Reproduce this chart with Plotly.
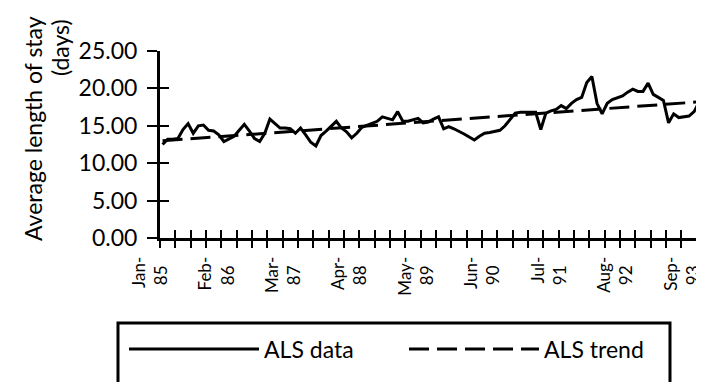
import plotly.graph_objects as go

# ---- data (monthly, Jan-85 onward) ----
als_data = [
    12.5, 13.2, 13.2, 13.3, 14.5, 15.3, 14.0, 15.0, 15.1, 14.4, 14.3, 13.8,
    12.9, 13.3, 13.6, 14.4, 15.2, 14.3, 13.3, 12.9, 14.0, 15.9, 15.3, 14.7,
    14.7, 14.6, 14.0, 14.7, 13.8, 12.8, 12.3, 13.7, 14.3, 15.0, 15.6, 14.7,
    14.2, 13.4, 14.0, 14.8, 15.1, 15.3, 15.6, 16.2, 16.0, 15.8, 16.9, 15.6,
    15.6, 15.8, 16.0, 15.4, 15.5, 15.9, 16.2, 14.6, 14.9, 14.6, 14.3, 13.9,
    13.5, 13.1, 13.6, 14.0, 14.1, 14.2, 14.4, 15.0, 15.9, 16.7, 16.8, 16.8,
    16.9, 16.8, 14.5, 16.7, 17.0, 17.2, 17.7, 17.3, 18.0, 18.5, 18.8, 20.8,
    21.6, 18.0, 16.6, 18.0, 18.5, 18.7, 19.0, 19.5, 19.9, 19.6, 19.6, 20.7,
    19.2, 18.8, 18.4, 15.4, 16.6, 16.1, 16.2, 16.3, 16.9, 18.2, 18.3, 18.4,
]
trend_months = [0, 107]
trend_values = [13.0, 18.3]

tick_months = [0, 13, 26, 39, 52, 65, 78, 91, 104]
NB = "\u00a0\u00a0"
tick_labels = ["Jan-<br>85" + NB, "Feb-<br>86" + NB, "Mar-<br>87" + NB, "Apr-<br>88" + NB,
               "May-<br>89" + NB, "Jun-<br>90" + NB, "Jul-<br>91" + NB, "Aug-<br>92" + NB,
               "Sep-<br>93" + NB]
y_ticks = [0, 5, 10, 15, 20, 25]

months = list(range(len(als_data)))
FONT = "Lato"
xr = [-0.5, len(als_data) - 0.5]
yr = [0, 25]

fig = go.Figure()
fig.add_trace(go.Scatter(x=months, y=als_data, mode="lines", name="ALS data",
                         line=dict(color="black", width=3)))
fig.add_trace(go.Scatter(x=trend_months, y=trend_values, mode="lines", name="ALS trend",
                         line=dict(color="black", width=3, dash="20px,8px")))
# empty helpers so the overlay axes (crossing tick marks) are drawn
fig.add_trace(go.Scatter(x=[], y=[], xaxis="x2", yaxis="y2", showlegend=False, hoverinfo="skip"))
fig.add_trace(go.Scatter(x=[], y=[], xaxis="x3", yaxis="y", showlegend=False, hoverinfo="skip"))

fig.update_layout(
    width=704, height=382,
    margin=dict(l=152, r=0, t=43, b=152, pad=0),
    paper_bgcolor="white", plot_bgcolor="white",
    font=dict(family=FONT, color="black", size=20),
    xaxis=dict(range=xr, showgrid=False, zeroline=False, showline=True,
               linecolor="black", linewidth=3, automargin=False,
               tickmode="array", tickvals=tick_months, ticktext=tick_labels,
               tickangle=-90, ticks="outside", ticklen=9, tickcolor="rgba(0,0,0,0)",
               ticklabelshift=-12,
               tickfont=dict(family=FONT, size=17)),
    xaxis2=dict(range=xr, overlaying="x", anchor="y", side="bottom", automargin=False,
                showgrid=False, zeroline=False, showline=False,
                tickmode="linear", tick0=-0.5, dtick=3, ticks="outside",
                ticklen=9, tickwidth=2, tickcolor="black", showticklabels=False),
    xaxis3=dict(range=xr, overlaying="x", anchor="y", side="bottom", automargin=False,
                showgrid=False, zeroline=False, showline=False,
                tickmode="linear", tick0=-0.5, dtick=3, ticks="inside",
                ticklen=8, tickwidth=2, tickcolor="black", showticklabels=False),
    yaxis=dict(range=yr, showgrid=False, zeroline=False, showline=True,
               linecolor="black", linewidth=3, automargin=False,
               tickmode="array", tickvals=y_ticks, tickformat=".2f",
               ticks="outside", ticklen=10, tickwidth=2, tickcolor="black",
               ticklabelstandoff=5,
               tickfont=dict(family=FONT, size=23)),
    yaxis2=dict(range=yr, overlaying="y", anchor="x", side="left", automargin=False,
                showgrid=False, zeroline=False, showline=False,
                tickmode="array", tickvals=y_ticks, ticks="inside",
                ticklen=9, tickwidth=2, tickcolor="black", showticklabels=False),
    showlegend=True,
    legend=dict(orientation="h", x=-0.0652, xanchor="left", y=-0.5936, yanchor="middle",
                entrywidth=135, entrywidthmode="pixels", itemwidth=130,
                bgcolor="rgba(0,0,0,0)", borderwidth=0,
                font=dict(family=FONT, size=23)),
    shapes=[dict(type="rect", xref="paper", yref="paper",
                 x0=-0.0761, x1=0.9239, y0=-0.4545, y1=-0.95,
                 line=dict(color="black", width=3), fillcolor="rgba(0,0,0,0)", layer="below")],
    annotations=[
        dict(text="Average length of stay", xref="paper", yref="paper",
             x=-0.2301, y=0.588, xanchor="center", yanchor="middle",
             textangle=-90, showarrow=False, font=dict(family=FONT, size=23)),
        dict(text="(days)", xref="paper", yref="paper",
             x=-0.1812, y=1.021, xanchor="center", yanchor="middle",
             textangle=-90, showarrow=False, font=dict(family=FONT, size=23)),
    ],
)

fig.write_html("out.html")
